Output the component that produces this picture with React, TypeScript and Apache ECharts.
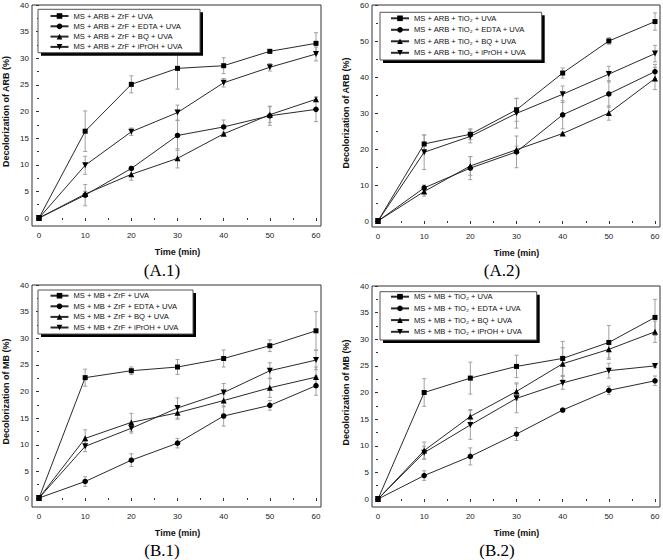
import React, { useEffect, useRef } from "react";
import * as echarts from "echarts";

// ---------- data ----------
const timeMin = [0, 10, 20, 30, 40, 50, 60];

// (A.1) ARB, ZrF
const a1Names = [
  "MS + ARB + ZrF + UVA",
  "MS + ARB + ZrF + EDTA + UVA",
  "MS + ARB + ZrF + BQ + UVA",
  "MS + ARB + ZrF + iPrOH + UVA",
];
const a1UVA = [0, 16.3, 25.1, 28.1, 28.6, 31.3, 32.8];
const a1UVAErr = [0, 3.8, 1.6, 3.9, 1.5, 0.3, 2.0];
const a1EDTA = [0, 4.3, 9.3, 15.5, 17.1, 19.2, 20.4];
const a1EDTAErr = [0, 2.0, 0.3, 2.8, 1.3, 1.8, 2.3];
const a1BQ = [0, 4.5, 8.2, 11.2, 15.8, 19.4, 22.3];
const a1BQErr = [0, 0.5, 1.1, 1.8, 0.3, 1.5, 0.4];
const a1IPrOH = [0, 9.9, 16.2, 19.8, 25.4, 28.3, 30.8];
const a1IPrOHErr = [0, 1.7, 0.7, 1.4, 0.8, 0.7, 1.3];

// (A.2) ARB, TiO2
const a2Names = [
  "MS + ARB + TiO₂ + UVA",
  "MS + ARB + TiO₂ + EDTA + UVA",
  "MS + ARB + TiO₂ + BQ + UVA",
  "MS + ARB + TiO₂ + iPrOH + UVA",
];
const a2UVA = [0, 21.4, 24.1, 30.9, 41.1, 50.0, 55.4];
const a2UVAErr = [0, 2.5, 1.5, 3.2, 1.4, 0.9, 2.4];
const a2EDTA = [0, 9.2, 14.7, 19.2, 29.5, 35.3, 41.5];
const a2EDTAErr = [0, 0.8, 3.2, 4.4, 3.9, 3.7, 2.0];
const a2BQ = [0, 8.2, 15.3, 19.8, 24.3, 30.0, 39.6];
const a2BQErr = [0, 1.3, 2.6, 1.0, 0.3, 2.0, 3.1];
const a2IPrOH = [0, 19.1, 23.5, 29.9, 35.2, 40.8, 46.5];
const a2IPrOHErr = [0, 4.8, 1.8, 4.1, 2.3, 2.2, 2.3];

// (B.1) MB, ZrF
const b1Names = [
  "MS + MB + ZrF + UVA",
  "MS + MB + ZrF + EDTA + UVA",
  "MS + MB + ZrF + BQ + UVA",
  "MS + MB + ZrF + iPrOH + UVA",
];
const b1UVA = [0, 22.6, 23.9, 24.6, 26.2, 28.6, 31.4];
const b1UVAErr = [0, 1.6, 0.7, 1.4, 1.6, 1.1, 3.6];
const b1EDTA = [0, 3.1, 7.1, 10.3, 15.4, 17.4, 21.1];
const b1EDTAErr = [0, 0.9, 1.2, 0.9, 1.9, 0.9, 1.8];
const b1BQ = [0, 11.2, 14.2, 16.0, 18.3, 20.7, 22.7];
const b1BQErr = [0, 1.6, 1.7, 1.2, 1.2, 1.8, 1.9];
const b1IPrOH = [0, 9.7, 13.1, 16.9, 19.8, 23.9, 25.9];
const b1IPrOHErr = [0, 1.0, 0.9, 1.9, 1.7, 1.5, 1.8];

// (B.2) MB, TiO2
const b2Names = [
  "MS + MB + TiO₂ + UVA",
  "MS + MB + TiO₂ + EDTA + UVA",
  "MS + MB + TiO₂ + BQ + UVA",
  "MS + MB + TiO₂ + iPrOH + UVA",
];
const b2UVA = [0, 20.0, 22.7, 24.9, 26.4, 29.4, 34.1];
const b2UVAErr = [0, 2.6, 3.0, 2.1, 3.2, 3.2, 3.4];
const b2EDTA = [0, 4.4, 8.0, 12.2, 16.7, 20.4, 22.2];
const b2EDTAErr = [0, 0.9, 1.6, 1.2, 0.3, 0.8, 0.9];
const b2BQ = [0, 9.1, 15.5, 20.2, 25.4, 28.1, 31.4];
const b2BQErr = [0, 1.6, 1.3, 1.6, 3.0, 1.6, 2.0];
const b2IPrOH = [0, 8.7, 13.9, 18.9, 21.8, 24.1, 25.0];
const b2IPrOHErr = [0, 1.2, 2.7, 2.7, 1.2, 1.4, 0.3];

const panelLabels = ["(A.1)", "(A.2)", "(B.1)", "(B.2)"];
const yTitles = [
  "Decolorization of ARB (%)",
  "Decolorization of ARB (%)",
  "Decolorization of MB (%)",
  "Decolorization of MB (%)",
];
const xTitle = "Time (min)";
const yMaxes = [40, 60, 40, 40];
const yIntervals = [5, 10, 5, 5];

// ---------- layout ----------
const SANS = "'Liberation Sans', Arial, sans-serif";
const layout = [
  { x0: 39, x60: 316, yTop: 5, y0: 218, fL: 32, fR: 321, fT: 5, fB: 226,
    legL: 49.5, legT: 12, legGap: 2.3, boxX: 38, boxY: 9.3, boxW: 162, boxH: 43.4, labX: 162, labY: 270 },
  { x0: 378, x60: 655, yTop: 5, y0: 221, fL: 372, fR: 660, fT: 5, fB: 227,
    legL: 390, legT: 14.3, legGap: 3.5, boxX: 380, boxY: 12.3, boxW: 161.7, boxH: 47.7, labX: 502, labY: 270 },
  { x0: 39, x60: 316, yTop: 285, y0: 498, fL: 32, fR: 321, fT: 285, fB: 507,
    legL: 49.5, legT: 291.7, legGap: 2.6, boxX: 38, boxY: 290, boxW: 155, boxH: 44, labX: 162, labY: 550 },
  { x0: 378, x60: 655, yTop: 286, y0: 499, fL: 372, fR: 660, fT: 286, fB: 507,
    legL: 390, legT: 292.7, legGap: 3.7, boxX: 380, boxY: 291.7, boxW: 156.7, boxH: 48.3, labX: 497, labY: 550 },
];

const symbols = ["rect", "circle", "triangle", "triangle"];
const symbolRotates = [0, 0, 0, 180];
const symbolSizes = [5, 5.5, 6, 6];

export default function App() {
  const ref = useRef<HTMLDivElement>(null);

  useEffect(() => {
    if (!ref.current) return;
    const chart = echarts.init(ref.current, null, { renderer: "svg" });

    const panels = [
      { names: a1Names, vals: [a1UVA, a1EDTA, a1BQ, a1IPrOH], errs: [a1UVAErr, a1EDTAErr, a1BQErr, a1IPrOHErr] },
      { names: a2Names, vals: [a2UVA, a2EDTA, a2BQ, a2IPrOH], errs: [a2UVAErr, a2EDTAErr, a2BQErr, a2IPrOHErr] },
      { names: b1Names, vals: [b1UVA, b1EDTA, b1BQ, b1IPrOH], errs: [b1UVAErr, b1EDTAErr, b1BQErr, b1IPrOHErr] },
      { names: b2Names, vals: [b2UVA, b2EDTA, b2BQ, b2IPrOH], errs: [b2UVAErr, b2EDTAErr, b2BQErr, b2IPrOHErr] },
    ];

    const grid: any[] = [];
    const xAxis: any[] = [];
    const yAxis: any[] = [];
    const series: any[] = [];
    const legend: any[] = [];
    const graphic: any[] = [];

    panels.forEach((p, i) => {
      const L = layout[i];
      grid.push({
        left: L.x0,
        top: L.yTop,
        width: L.x60 - L.x0,
        height: L.y0 - L.yTop,
        containLabel: false,
      });
      xAxis.push({
        type: "value",
        gridIndex: i,
        min: 0,
        max: 60,
        interval: 10,
        offset: L.fB - L.y0,
        axisLine: { show: false },
        axisTick: { show: true, inside: false, length: 3, lineStyle: { color: "#333", width: 1 } },
        minorTick: { show: true, splitNumber: 2, length: 2, lineStyle: { color: "#333", width: 1 } },
        splitLine: { show: false },
        minorSplitLine: { show: false },
        axisLabel: { fontSize: 8, color: "#222", margin: 5, fontFamily: SANS },
        name: xTitle,
        nameLocation: "middle",
        nameGap: 21,
        nameTextStyle: { fontSize: 9, fontWeight: "bold", color: "#111", fontFamily: SANS },
      });
      yAxis.push({
        type: "value",
        gridIndex: i,
        min: 0,
        max: yMaxes[i],
        interval: yIntervals[i],
        offset: L.x0 - L.fL,
        axisLine: { show: false },
        axisTick: { show: true, inside: false, length: 3, lineStyle: { color: "#333", width: 1 } },
        minorTick: { show: true, splitNumber: 2, length: 2, lineStyle: { color: "#333", width: 1 } },
        splitLine: { show: false },
        minorSplitLine: { show: false },
        axisLabel: { fontSize: 8, color: "#222", margin: 3, fontFamily: SANS },
        name: yTitles[i],
        nameLocation: "middle",
        nameRotate: 90,
        nameGap: 22,
        nameTextStyle: { fontSize: 9, fontWeight: "bold", color: "#111", fontFamily: SANS },
      });

      // error bars
      const errData: number[][] = [];
      p.vals.forEach((v, s) => {
        timeMin.forEach((t, k) => errData.push([t, v[k], p.errs[s][k]]));
      });
      series.push({
        type: "custom",
        xAxisIndex: i,
        yAxisIndex: i,
        z: 1,
        clip: false,
        silent: true,
        encode: { x: 0, y: 1 },
        data: errData,
        renderItem: (params: any, api: any) => {
          const x = api.value(0);
          const y = api.value(1);
          const e = api.value(2);
          if (!e) return null;
          const top = api.coord([x, y + e]);
          const bot = api.coord([x, y - e]);
          const w = 2;
          const st = { stroke: "#a0a0a0", lineWidth: 1 };
          return {
            type: "group",
            children: [
              { type: "line", shape: { x1: top[0], y1: top[1], x2: bot[0], y2: bot[1] }, style: st },
              { type: "line", shape: { x1: top[0] - w, y1: top[1], x2: top[0] + w, y2: top[1] }, style: st },
              { type: "line", shape: { x1: bot[0] - w, y1: bot[1], x2: bot[0] + w, y2: bot[1] }, style: st },
            ],
          };
        },
      });

      p.vals.forEach((v, s) => {
        series.push({
          type: "line",
          name: p.names[s],
          xAxisIndex: i,
          yAxisIndex: i,
          z: 3,
          clip: false,
          symbol: symbols[s],
          symbolRotate: symbolRotates[s],
          symbolSize: symbolSizes[s],
          showAllSymbol: true,
          lineStyle: { color: "#2a2a2a", width: 1 },
          itemStyle: { color: "#000" },
          emphasis: { disabled: true },
          data: timeMin.map((t, k) => [t, v[k]]),
        });
      });

      legend.push({
        show: true,
        orient: "vertical",
        left: L.legL,
        top: L.legT,
        itemWidth: 18,
        itemHeight: 7,
        itemGap: L.legGap,
        padding: 0,
        selectedMode: false,
        z: 20,
        data: p.names,
        textStyle: { fontSize: 7.6, color: "#111", fontFamily: SANS, lineHeight: 8 },
      });

      // frame
      graphic.push({
        type: "rect",
        z: 5,
        silent: true,
        shape: { x: L.fL, y: L.fT, width: L.fR - L.fL, height: L.fB - L.fT },
        style: { fill: "none", stroke: "#333", lineWidth: 1 },
      });
      // legend shadow + box
      graphic.push({
        type: "rect",
        z: 10,
        silent: true,
        shape: { x: L.boxX + 3, y: L.boxY + 3, width: L.boxW, height: L.boxH },
        style: { fill: "#000" },
      });
      graphic.push({
        type: "rect",
        z: 11,
        silent: true,
        shape: { x: L.boxX, y: L.boxY, width: L.boxW, height: L.boxH },
        style: { fill: "#fff", stroke: "#555", lineWidth: 1 },
      });
      // panel label
      graphic.push({
        type: "text",
        z: 12,
        silent: true,
        x: L.labX,
        y: L.labY,
        style: {
          text: panelLabels[i],
          font: "17px 'Liberation Serif', 'Times New Roman', serif",
          fill: "#000",
          align: "center",
          verticalAlign: "middle",
        },
      });
    });

    chart.setOption({
      animation: false,
      backgroundColor: "#fff",
      textStyle: { fontFamily: SANS },
      grid,
      xAxis,
      yAxis,
      legend,
      series,
      graphic,
    });

    return () => chart.dispose();
  }, []);

  return (
    <div
      ref={ref}
      style={{ position: "absolute", left: 0, top: 0, width: 663, height: 560 }}
    />
  );
}
